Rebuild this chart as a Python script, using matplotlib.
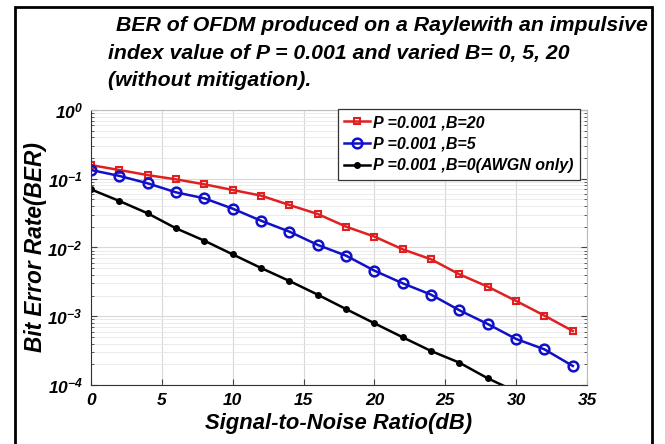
import matplotlib
matplotlib.use("Agg")
import matplotlib.pyplot as plt
from matplotlib.patches import Rectangle
from matplotlib.ticker import LogLocator

plt.rcParams['font.family'] = ['Liberation Sans', 'DejaVu Sans']
plt.rcParams['mathtext.fontset'] = 'custom'
plt.rcParams['mathtext.rm'] = 'Liberation Sans:bold:italic'
plt.rcParams['mathtext.it'] = 'Liberation Sans:bold:italic'
plt.rcParams['mathtext.bf'] = 'Liberation Sans:bold:italic'

snr = [0, 2, 4, 6, 8, 10, 12, 14, 16, 18, 20, 22, 24, 26, 28, 30, 32, 34]
ber_b20 = [0.158, 0.134, 0.113, 0.098, 0.083, 0.0686, 0.0568, 0.0415, 0.0307,
           0.0201, 0.0144, 0.0094, 0.00673, 0.00407, 0.00269, 0.00167, 0.00102, 0.00061]
ber_b5 = [0.134, 0.110, 0.0858, 0.0634, 0.0519, 0.0367, 0.0245, 0.0170, 0.0109,
          0.0076, 0.0046, 0.00301, 0.00206, 0.00122, 0.00077, 0.000467, 0.00033, 0.000189]
snr_b0 = [0, 2, 4, 6, 8, 10, 12, 14, 16, 18, 20, 22, 24, 26, 28, 30]
ber_b0 = [0.070, 0.0475, 0.0314, 0.019, 0.01256, 0.00794, 0.00503, 0.00326, 0.00206,
          0.00127, 0.00079, 0.000494, 0.000312, 0.000211, 0.000125, 0.00008]

labels = ['P =0.001 ,B=20', 'P =0.001 ,B=5', 'P =0.001 ,B=0(AWGN only)']
title_lines = ['BER of OFDM produced on a Raylewith an impulsive',
               'index value of P = 0.001 and varied B= 0, 5, 20',
               '(without mitigation).']
xticks = [0, 5, 10, 15, 20, 25, 30, 35]
yticks = [1e-4, 1e-3, 1e-2, 1e-1, 1e0]
ytick_labels = [r'$10^{-4}$', r'$10^{-3}$', r'$10^{-2}$', r'$10^{-1}$', r'$10^{0}$']

W, H = 665, 444
fig = plt.figure(figsize=(W / 100, H / 100), dpi=100)
ax = fig.add_axes([91 / W, 1 - 385 / H, (587 - 91) / W, (385 - 110) / H])

ax.semilogy(snr, ber_b20, '-s', color='#e02020', lw=1.8, ms=5, mfc='none', mew=1.5, label=labels[0])
ax.semilogy(snr, ber_b5, '-o', color='#1010c8', lw=1.8, ms=7, mfc='none', mew=1.8, label=labels[1])
ax.semilogy(snr_b0, ber_b0, '-o', color='black', lw=1.8, ms=4, label=labels[2])

ax.set_xlim(0, 35)
ax.set_ylim(1e-4, 1e0)
ax.set_xticks(xticks)
ax.set_xticklabels([str(t) for t in xticks], fontsize=12.5, fontweight='bold', fontstyle='italic')
ax.set_yticks(yticks)
ax.set_yticklabels(ytick_labels, fontsize=12.5)
ax.yaxis.set_minor_locator(LogLocator(base=10, subs=range(2, 10), numticks=20))
ax.tick_params(axis='both', which='major', direction='in', length=4, color='#444444', top=False, right=True, pad=6)
ax.tick_params(axis='y', which='minor', direction='in', length=2, color='#444444', right=True)
ax.grid(True, which='major', color='#d8d8d8', lw=0.8)
ax.grid(True, which='minor', axis='y', color='#e8e8e8', lw=0.6)
for s in ['top', 'right']:
    ax.spines[s].set_color('#bbbbbb')
for s in ['left', 'bottom']:
    ax.spines[s].set_color('#333333')

ax.set_xlabel('Signal-to-Noise Ratio(dB)', fontsize=15.8, fontweight='bold', fontstyle='italic', labelpad=3)
ax.set_ylabel('Bit Error Rate(BER)', fontsize=16.3, fontweight='bold', fontstyle='italic', labelpad=0)

leg = ax.legend(loc='upper right', bbox_to_anchor=(0.986, 1.005), borderaxespad=0,
                prop={'weight': 'bold', 'style': 'italic', 'size': 11.5},
                handlelength=1.6, handletextpad=0.2, borderpad=0.4, labelspacing=0.42,
                frameon=True, fancybox=False, edgecolor='#333333', framealpha=1)
leg.get_frame().set_linewidth(0.9)

title_x = [116, 108, 108]
title_base = [31, 59, 86]
for line, tx, ty in zip(title_lines, title_x, title_base):
    fig.text(tx / W, 1 - ty / H, line, fontsize=15.3, fontweight='bold',
             fontstyle='italic', ha='left', va='baseline')

fig.patches.append(Rectangle((15 / W, -0.05), (652 - 15) / W, 1 - 7 / H + 0.05,
                             transform=fig.transFigure, fill=False, edgecolor='black', lw=2))

fig.savefig('out.png', dpi=100)
